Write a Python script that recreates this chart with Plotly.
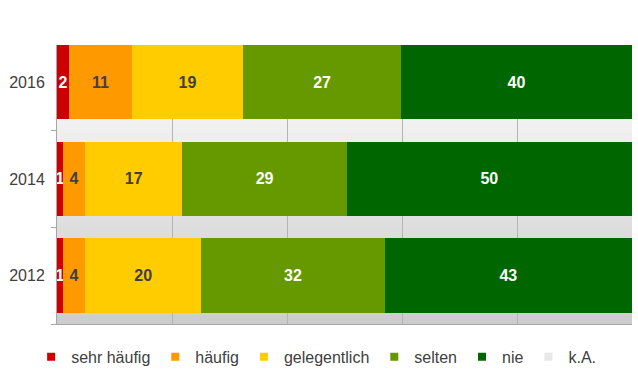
import plotly.graph_objects as go

years = ["2016", "2014", "2012"]
series = ["sehr häufig", "häufig", "gelegentlich", "selten", "nie", "k.A."]
sehr_haeufig = [2.1, 1.0, 1.0]
haeufig = [10.9, 3.9, 3.9]
gelegentlich = [19.4, 16.9, 20.2]
selten = [27.4, 28.6, 31.9]
nie = [40.2, 49.6, 43.0]
k_a = [0, 0, 0]
values = [sehr_haeufig, haeufig, gelegentlich, selten, nie, k_a]

colors = ["#cc0000", "#ff9900", "#ffcc00", "#669900", "#006600", "#e8e8e8"]
text_colors = ["#ffffff", "#404040", "#404040", "#ffffff", "#ffffff", "#404040"]

FONT = "Liberation Sans, Arial, sans-serif"

fig = go.Figure()
for name, vals, col, tcol in zip(series, values, colors, text_colors):
    fig.add_trace(go.Bar(
        y=years, x=vals, orientation="h", name=name,
        marker=dict(color=col, line=dict(width=0)),
        texttemplate="%{x:.0f}" if name != "k.A." else "",
        textposition="inside", insidetextanchor="middle",
        constraintext="none", cliponaxis=False,
        textfont=dict(family=FONT, size=16, color=tcol, weight="bold"),
        showlegend=False, legendgroup=name, hoverinfo="x+name",
    ))
    fig.add_trace(go.Scatter(
        x=[None], y=[None], mode="markers", name=name, legendgroup=name,
        marker=dict(symbol="square", size=8, color=col), showlegend=True,
    ))

# vertical gradient background for the plot area
n = 60
shapes = []
for i in range(n):
    f0 = i / n
    f1 = (i + 1) / n
    t = (f0 + f1) / 2
    c = int(round(204 + (255 - 204) * t))
    shapes.append(dict(type="rect", xref="paper", yref="paper",
                       x0=0, x1=1, y0=f0, y1=f1 + 0.002,
                       fillcolor=f"rgb({c},{c},{c})", line=dict(width=0),
                       layer="below"))

fig.update_layout(
    width=638, height=392,
    margin=dict(l=57, r=6, t=45, b=68, autoexpand=False),
    barmode="stack", bargap=0.23,
    paper_bgcolor="white", plot_bgcolor="rgba(0,0,0,0)",
    shapes=shapes,
    uniformtext=dict(minsize=16, mode="show"),
    font=dict(family=FONT, size=16, color="#404040"),
    showlegend=True,
    legend=dict(orientation="h", x=-0.045, xanchor="left", y=-0.118, yanchor="middle",
                font=dict(family=FONT, size=16, color="#404040"),
                bgcolor="rgba(0,0,0,0)", traceorder="normal"),
    xaxis=dict(range=[0, 100], dtick=20, showticklabels=False, ticks="",
               showgrid=True, gridcolor="#b4b4b4", gridwidth=1, zeroline=False,
               showline=True, linecolor="#a6a6a6", linewidth=1, automargin=False),
    yaxis=dict(type="category", categoryorder="array", categoryarray=["2012", "2014", "2016"],
               range=[-0.5, 2.385], showgrid=False, zeroline=False,
               showline=True, linecolor="#a6a6a6", linewidth=1,
               ticks="outside", tickson="boundaries", ticklen=5, tickcolor="#a6a6a6",
               ticklabelstandoff=8, automargin=False,
               tickfont=dict(family=FONT, size=16, color="#404040")),
)

fig.write_html("out.html", config={"displayModeBar": False},
               post_script="document.body.style.margin='0';document.body.style.overflow='hidden';")
